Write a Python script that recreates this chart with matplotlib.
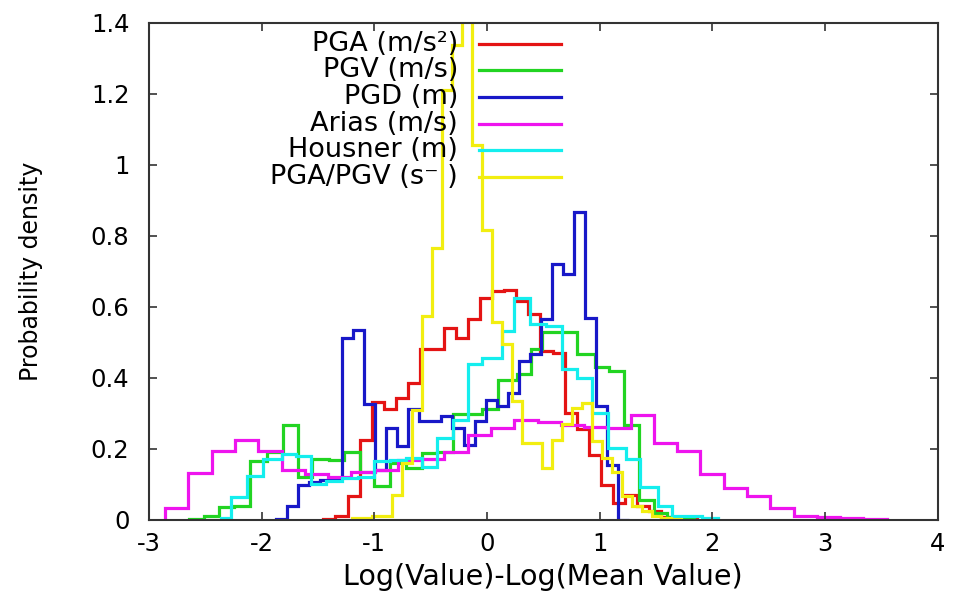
import numpy as np
import matplotlib
matplotlib.use("Agg")
import matplotlib.pyplot as plt

plt.rcParams["axes.unicode_minus"] = False

# ---------------- data ----------------
labels = ["PGA (m/s²)", "PGV (m/s)", "PGD (m)", "Arias (m/s)", "Housner (m)", "PGA/PGV (s⁻ )"]
colors = ["#e41414", "#22d422", "#1818c8", "#ee14ee", "#14eeee", "#f2ee10"]

# PGA (uniform bins)
pga_start, pga_width = -1.451, 0.107
pga_heights = [0.002, 0.011, 0.068, 0.226, 0.331, 0.311, 0.344, 0.386, 0.48, 0.48,
               0.541, 0.513, 0.567, 0.626, 0.645, 0.647, 0.617, 0.579, 0.475, 0.47,
               0.301, 0.256, 0.184, 0.099, 0.047, 0.071, 0.038, 0.024, 0.009, 0.007, 0.002]

# PGV (bin edges read directly)
pgv_edges = [-2.644, -2.509, -2.376, -2.24, -2.10, -1.95, -1.81, -1.68, -1.55, -1.40,
             -1.27, -1.13, -1.00, -0.86, -0.72, -0.58, -0.44, -0.30, -0.17, -0.04,
             0.10, 0.27, 0.39, 0.49, 0.65, 0.80, 0.96, 1.08, 1.22, 1.35, 1.48, 1.60, 1.72, 1.84]
pgv_heights = [0.003, 0.01, 0.035, 0.038, 0.165, 0.19, 0.268, 0.12, 0.172, 0.168,
               0.19, 0.135, 0.094, 0.16, 0.146, 0.188, 0.19, 0.297, 0.297, 0.311,
               0.395, 0.41, 0.48, 0.53, 0.53, 0.466, 0.43, 0.42, 0.268, 0.056, 0.02, 0.008, 0.003]

# PGD (uniform bins)
pgd_start, pgd_width = -1.874, 0.098
pgd_heights = [0.003, 0.038, 0.099, 0.108, 0.113, 0.118, 0.513, 0.534, 0.325, 0.14,
               0.259, 0.207, 0.311, 0.278, 0.278, 0.292, 0.26, 0.212, 0.278, 0.339,
               0.320, 0.358, 0.447, 0.466, 0.565, 0.720, 0.692, 0.866, 0.570, 0.320, 0.155, 0.0]

# Arias (uniform bins)
arias_start, arias_width = -2.855, 0.2065
arias_heights = [0.033, 0.132, 0.195, 0.226, 0.195, 0.141, 0.128, 0.122, 0.134, 0.141,
                 0.169, 0.172, 0.19, 0.24, 0.259, 0.281, 0.277, 0.268, 0.262, 0.259,
                 0.294, 0.217, 0.195, 0.129, 0.089, 0.066, 0.033, 0.011, 0.007, 0.005, 0.002]

# Housner (bin edges read directly)
hous_edges = [-2.36, -2.27, -2.13, -1.99, -1.82, -1.69, -1.56, -1.43, -1.29, -1.14,
              -1.00, -0.86, -0.72, -0.58, -0.44, -0.30, -0.17, -0.04, 0.13, 0.236,
              0.384, 0.52, 0.664, 0.797, 0.93, 1.078, 1.23, 1.36, 1.52, 1.64, 1.77, 1.91, 2.05]
hous_heights = [0.005, 0.063, 0.123, 0.172, 0.186, 0.18, 0.10, 0.11, 0.118, 0.122,
                0.165, 0.168, 0.175, 0.15, 0.231, 0.282, 0.438, 0.455, 0.532, 0.626,
                0.553, 0.545, 0.424, 0.40, 0.30, 0.202, 0.172, 0.092, 0.04, 0.012, 0.01, 0.005]

# PGA/PGV (uniform bins)
ratio_start, ratio_width = -1.195, 0.0885
ratio_heights = [0.004, 0.004, 0.01, 0.01, 0.07, 0.16, 0.31, 0.575, 0.767, 1.21,
                 1.337, 1.6, 1.056, 0.817, 0.556, 0.494, 0.334, 0.217, 0.217, 0.146,
                 0.226, 0.27, 0.315, 0.328, 0.221, 0.174, 0.136, 0.066, 0.04, 0.025,
                 0.012, 0.006, 0.003]

xticks = [-3, -2, -1, 0, 1, 2, 3, 4]
yticks = [0, 0.2, 0.4, 0.6, 0.8, 1.0, 1.2, 1.4]
yticklabels = ["0", "0.2", "0.4", "0.6", "0.8", "1", "1.2", "1.4"]
xlabel = "Log(Value)-Log(Mean Value)"
ylabel = "Probability density"


def uniform_edges(start, width, n):
    return start + width * np.arange(n + 1)


series = [
    (uniform_edges(pga_start, pga_width, len(pga_heights)), pga_heights),
    (np.array(pgv_edges), pgv_heights),
    (uniform_edges(pgd_start, pgd_width, len(pgd_heights)), pgd_heights),
    (uniform_edges(arias_start, arias_width, len(arias_heights)), arias_heights),
    (np.array(hous_edges), hous_heights),
    (uniform_edges(ratio_start, ratio_width, len(ratio_heights)), ratio_heights),
]

# ---------------- figure ----------------
fig = plt.figure(figsize=(9.54, 6.01), dpi=100)
ax = fig.add_axes([0.156, 0.135, 0.827, 0.827])

for (edges, h), c in zip(series, colors):
    ax.stairs(h, edges, baseline=0, color=c, lw=2.3, joinstyle="miter")

ax.set_xlim(-3, 4)
ax.set_ylim(0, 1.4)
ax.set_xticks(xticks)
ax.set_yticks(yticks)
ax.set_yticklabels(yticklabels)
ax.tick_params(direction="in", top=True, right=True, length=6, width=1.2,
               labelsize=17.5, color="#333333")
ax.tick_params(axis="y", pad=14)
ax.tick_params(axis="x", pad=9)
for s in ax.spines.values():
    s.set_linewidth(1.5)
    s.set_color("#333333")

ax.set_xlabel(xlabel, fontsize=20.5, labelpad=5)
ax.set_ylabel(ylabel, fontsize=17, labelpad=34)

# legend (gnuplot style: right-aligned text, sample line to the right)
rows = [0.958, 0.905, 0.851, 0.797, 0.744, 0.690]
for lab, c, yy in zip(labels, colors, rows):
    ax.text(0.392, yy, lab, transform=ax.transAxes, ha="right", va="center",
            fontsize=19.5, color="black", zorder=5)
    ax.plot([0.418, 0.522], [yy, yy], transform=ax.transAxes, color=c, lw=2.3,
            clip_on=False, zorder=5)

fig.savefig("out.png", dpi=100)
